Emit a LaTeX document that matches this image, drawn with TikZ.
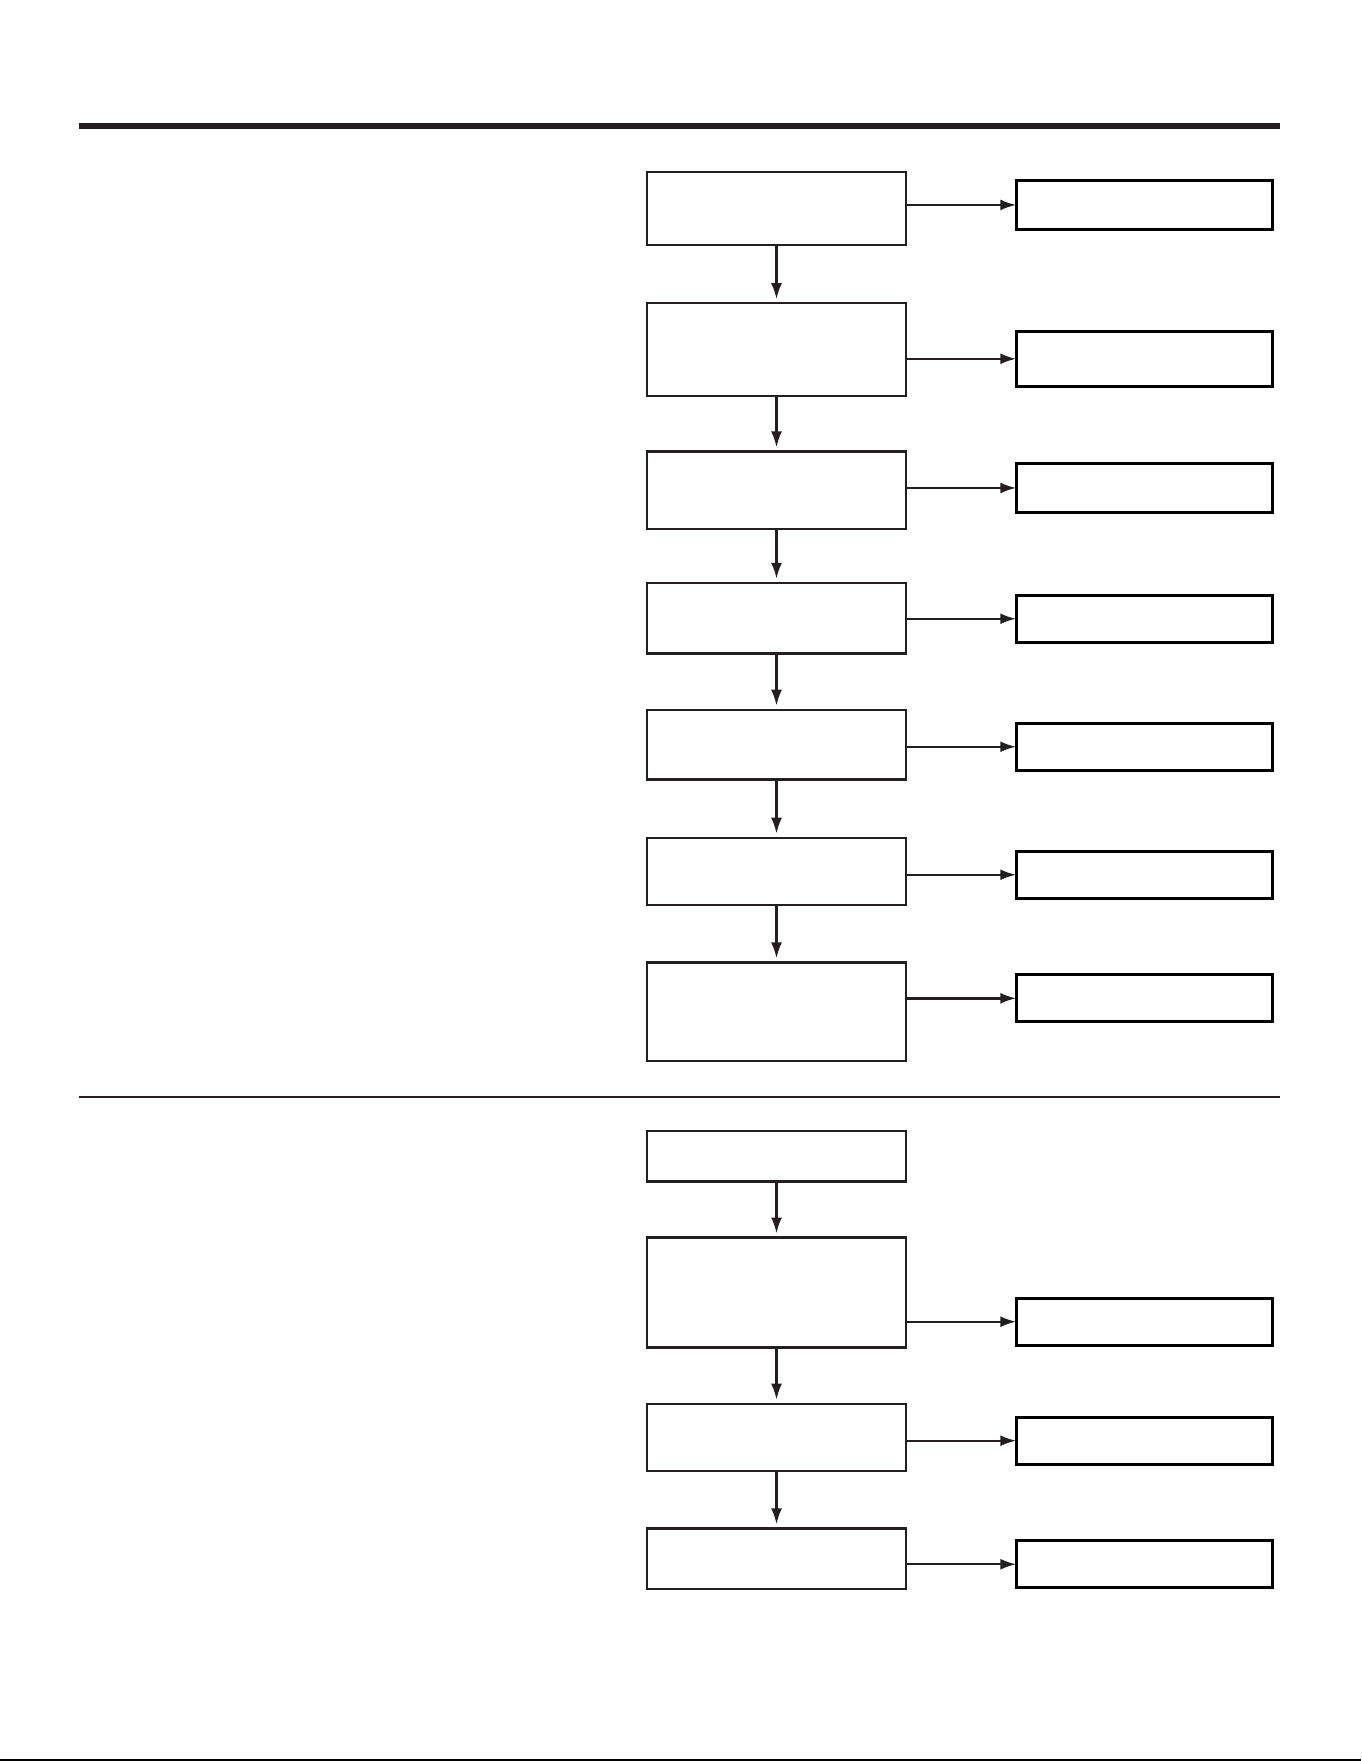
\documentclass[tikz,border=0pt]{standalone}
\usetikzlibrary{arrows.meta}
\definecolor{ink}{HTML}{231F20}
\begin{document}
\begin{tikzpicture}[x=1pt,y=-1pt,
  lbox/.style={draw=ink,line width=2.4pt,inner sep=0pt,outer sep=0pt,anchor=north west,minimum width=259.4pt},
  rbox/.style={draw=black,line width=3pt,inner sep=0pt,outer sep=0pt,anchor=north west,minimum width=256pt},
  arr/.style={draw=ink,line width=2.4pt,-{Latex[length=16pt,width=11pt]}},
  varr/.style={arr,shorten >=4pt}]
\useasboundingbox (0,0) rectangle (1361,1761);
\fill[white] (0,0) rectangle (1361,1761);
% rules
\draw[ink,line width=5.5pt] (78.6,126) -- (1280,126);
\draw[ink,line width=2.5pt] (78.6,1097) -- (1280,1097);
\draw[black,line width=2pt] (0,1760) -- (1361,1760);
% left column
\node[lbox,minimum height=73pt]  (L1)  at (646.8,171.8) {};
\node[lbox,minimum height=93pt]  (L2)  at (646.8,303.2) {};
\node[lbox,minimum height=77.5pt](L3)  at (646.8,451.4) {};
\node[lbox,minimum height=70.7pt](L4)  at (646.8,582.8) {};
\node[lbox,minimum height=69.6pt](L5)  at (646.8,709.7) {};
\node[lbox,minimum height=67.4pt](L6)  at (646.8,837.7) {};
\node[lbox,minimum height=98.8pt](L7)  at (646.8,962.4) {};
\node[lbox,minimum height=50.5pt](L8)  at (646.8,1130.8) {};
\node[lbox,minimum height=110pt] (L9)  at (646.8,1237.5) {};
\node[lbox,minimum height=67.3pt](L10) at (646.8,1403.7) {};
\node[lbox,minimum height=60.7pt](L11) at (646.8,1528.3) {};
% right column
\node[rbox,minimum height=48.3pt](R1)  at (1016.3,180.8) {};
\node[rbox,minimum height=55pt]  (R2)  at (1016.3,331.3) {};
\node[rbox,minimum height=48.3pt](R3)  at (1016.3,463.8) {};
\node[rbox,minimum height=47.1pt](R4)  at (1016.3,595.2) {};
\node[rbox,minimum height=47.1pt](R5)  at (1016.3,723.2) {};
\node[rbox,minimum height=47.1pt](R6)  at (1016.3,851.2) {};
\node[rbox,minimum height=47.2pt](R7)  at (1016.3,974.7) {};
\node[rbox,minimum height=47.2pt](R9)  at (1016.3,1298.1) {};
\node[rbox,minimum height=47.2pt](R10) at (1016.3,1417.1) {};
\node[rbox,minimum height=47.1pt](R11) at (1016.3,1540.7) {};
% vertical arrows
\foreach \a/\b in {L1/L2,L2/L3,L3/L4,L4/L5,L5/L6,L6/L7,L8/L9,L9/L10,L10/L11}
  \draw[varr] (\a.south) -- (\b.north);
% horizontal arrows
\foreach \a/\b in {L1/R1,L2/R2,L3/R3,L4/R4,L5/R5,L6/R6,L7/R7,L9/R9,L10/R10,L11/R11}
  \draw[arr] (\a.east |- \b.west) -- (\b.west);
\end{tikzpicture}
\end{document}
